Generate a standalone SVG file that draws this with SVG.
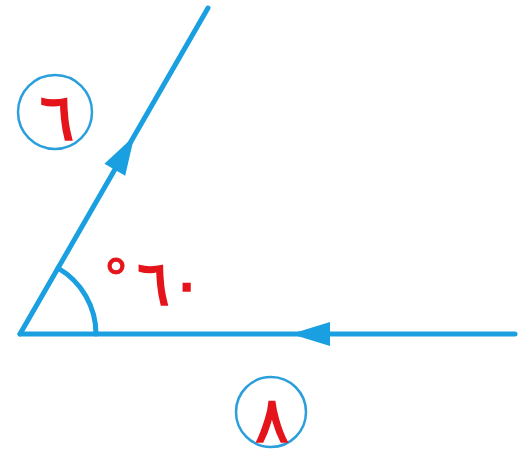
<svg xmlns="http://www.w3.org/2000/svg" width="523" height="463" viewBox="0 0 523 463">
<style>
.ln{stroke:#1a9fe0;stroke-width:5;fill:none;stroke-linecap:round}
.ah{fill:#1a9fe0}
.cir{stroke:#2a9fdc;stroke-width:2.5;fill:#fff}
.num{fill:#e5141b;font-family:"DejaVu Sans","Noto Sans",sans-serif;font-weight:normal;text-anchor:middle}
</style>
<rect width="523" height="463" fill="#fff"/>
<g id="connectors">
<line class="ln" x1="20" y1="334" x2="515" y2="334"/>
<line class="ln" x1="20" y1="334" x2="208" y2="8"/>
<path class="ln" d="M96,334 A76,76 0 0 0 58,268.2"/>
<polygon class="ah" points="291,334 330,322 330,346"/>
<polygon class="ah" transform="rotate(120 134.3 136)" points="134.3,136 173.3,124 173.3,148"/>
</g>
<g id="label6">
<circle class="cir" cx="55" cy="112" r="37"/>
<text class="num" x="57" y="140" font-size="66" stroke="#e5141b" stroke-width="1.5">٦</text>
</g>
<g id="label8">
<circle class="cir" cx="271" cy="412" r="35"/>
<text class="num" x="272" y="442" font-size="64" stroke="#e5141b" stroke-width="1.5">٨</text>
</g>
<g id="angle">
<text class="num" x="116" y="296" font-size="52" stroke="#e5141b" stroke-width="1">°</text>
<text class="num" x="170" y="305" font-size="62" direction="ltr" stroke="#e5141b" stroke-width="1.5">٦٠</text>
</g>
</svg>
